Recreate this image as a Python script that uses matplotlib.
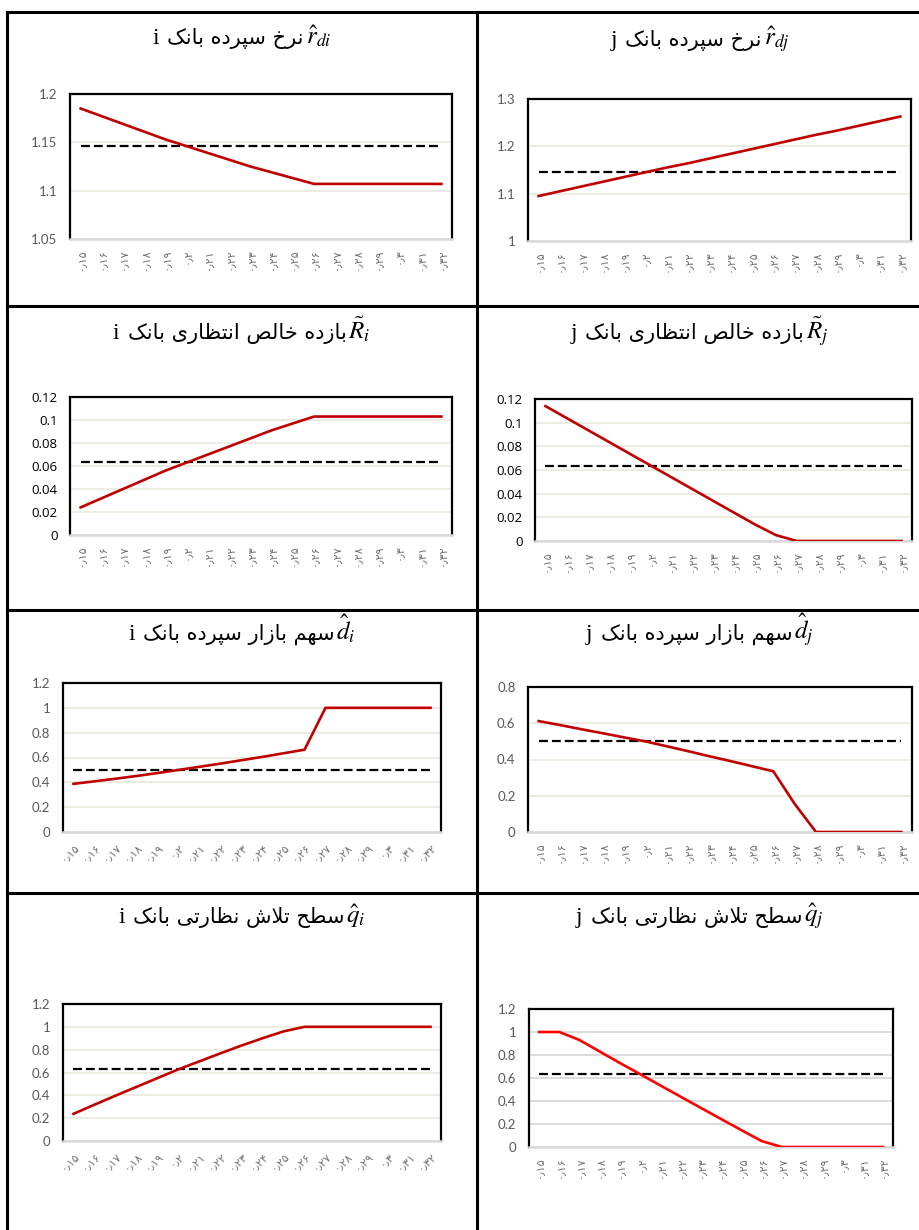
import numpy as np
import matplotlib
matplotlib.use('Agg')
import matplotlib.pyplot as plt
from matplotlib.lines import Line2D

plt.rcParams['mathtext.fontset'] = 'stix'

# ---------------- data ----------------
cat_labels = ['0.15', '0.16', '0.17', '0.18', '0.19', '0.2', '0.21', '0.22', '0.23',
              '0.24', '0.25', '0.26', '0.27', '0.28', '0.29', '0.3', '0.31', '0.32']

r_di = [1.185, 1.177, 1.169, 1.161, 1.153, 1.146, 1.139, 1.132, 1.125, 1.119, 1.113, 1.107,
        1.107, 1.107, 1.107, 1.107, 1.107, 1.107]
r_dj = [1.095, 1.105, 1.115, 1.125, 1.135, 1.145, 1.155, 1.164, 1.174, 1.184, 1.194, 1.204,
        1.214, 1.224, 1.233, 1.243, 1.253, 1.263]
R_i = [0.024, 0.032, 0.040, 0.048, 0.056, 0.063, 0.070, 0.077, 0.084, 0.091, 0.097, 0.103,
       0.103, 0.103, 0.103, 0.103, 0.103, 0.103]
R_j = [0.114, 0.104, 0.094, 0.084, 0.074, 0.064, 0.054, 0.044, 0.034, 0.024, 0.014, 0.005,
       0, 0, 0, 0, 0, 0]
d_i = [0.388, 0.408, 0.429, 0.451, 0.475, 0.500, 0.525, 0.551, 0.578, 0.605, 0.634, 0.663,
       1, 1, 1, 1, 1, 1]
d_j = [0.612, 0.590, 0.567, 0.545, 0.522, 0.500, 0.473, 0.446, 0.418, 0.391, 0.363, 0.335,
       0.155, 0, 0, 0, 0, 0]
q_i = [0.238, 0.318, 0.397, 0.474, 0.551, 0.628, 0.698, 0.768, 0.836, 0.900, 0.960, 1.0,
       1, 1, 1, 1, 1, 1]
q_j = [1, 1, 0.93, 0.83, 0.73, 0.633, 0.535, 0.437, 0.34, 0.243, 0.147, 0.052,
       0, 0, 0, 0, 0, 0]

# benchmark (dashed) levels
ref_r_di, ref_r_dj = 1.146, 1.145
ref_R_i, ref_R_j = 0.0636, 0.0638
ref_d_i, ref_d_j = 0.5, 0.5
ref_q_i, ref_q_j = 0.628, 0.633

yt_r_di = [1.05, 1.1, 1.15, 1.2]
yt_r_dj = [1, 1.1, 1.2, 1.3]
yt_R = [0, 0.02, 0.04, 0.06, 0.08, 0.1, 0.12]
yt_d_i = [0, 0.2, 0.4, 0.6, 0.8, 1, 1.2]
yt_d_j = [0, 0.2, 0.4, 0.6, 0.8]
yt_q = [0, 0.2, 0.4, 0.6, 0.8, 1, 1.2]

title_fa = ['نرخ سپرده بانک', 'نرخ سپرده بانک',
            'بازده خالص انتظاری بانک', 'بازده خالص انتظاری بانک',
            'سهم بازار سپرده بانک', 'سهم بازار سپرده بانک',
            'سطح تلاش نظارتی بانک', 'سطح تلاش نظارتی بانک']
title_math = [r'$\hat{r}_{di}$', r'$\hat{r}_{dj}$', r'$\tilde{R}_{i}$', r'$\tilde{R}_{j}$',
              r'$\hat{d}_{i}$', r'$\hat{d}_{j}$', r'$\hat{q}_{i}$', r'$\hat{q}_{j}$']
title_bank = ['i', 'j', 'i', 'j', 'i', 'j', 'i', 'j']

# ---------------- simple arabic shaping (matplotlib has none) ----------------
FORMS = {
    'ا': ('\uFE8D', '\uFE8E'),
    'د': ('\uFEA9', '\uFEAA'),
    'ر': ('\uFEAD', '\uFEAE'),
    'ز': ('\uFEAF', '\uFEB0'),
    'لا': ('\uFEFB', '\uFEFC'),
    'ب': ('\uFE8F', '\uFE90', '\uFE91', '\uFE92'),
    'پ': ('\uFB56', '\uFB57', '\uFB58', '\uFB59'),
    'ت': ('\uFE95', '\uFE96', '\uFE97', '\uFE98'),
    'ح': ('\uFEA1', '\uFEA2', '\uFEA3', '\uFEA4'),
    'خ': ('\uFEA5', '\uFEA6', '\uFEA7', '\uFEA8'),
    'س': ('\uFEB1', '\uFEB2', '\uFEB3', '\uFEB4'),
    'ش': ('\uFEB5', '\uFEB6', '\uFEB7', '\uFEB8'),
    'ص': ('\uFEB9', '\uFEBA', '\uFEBB', '\uFEBC'),
    'ط': ('\uFEC1', '\uFEC2', '\uFEC3', '\uFEC4'),
    'ظ': ('\uFEC5', '\uFEC6', '\uFEC7', '\uFEC8'),
    'ل': ('\uFEDD', '\uFEDE', '\uFEDF', '\uFEE0'),
    'م': ('\uFEE1', '\uFEE2', '\uFEE3', '\uFEE4'),
    'ن': ('\uFEE5', '\uFEE6', '\uFEE7', '\uFEE8'),
    'ه': ('\uFEE9', '\uFEEA', '\uFEEB', '\uFEEC'),
    'ک': ('\uFB8E', '\uFB8F', '\uFB90', '\uFB91'),
    'ی': ('\uFBFC', '\uFBFD', '\uFBFE', '\uFBFF'),
}


def shape(text):
    tokens = []
    i = 0
    while i < len(text):
        if text[i:i + 2] == 'لا':
            tokens.append('لا')
            i += 2
        else:
            tokens.append(text[i])
            i += 1
    out = []
    for k, t in enumerate(tokens):
        if t not in FORMS:
            out.append(t)
            continue
        prev = tokens[k - 1] if k > 0 else None
        nxt = tokens[k + 1] if k + 1 < len(tokens) else None
        jp = prev in FORMS and len(FORMS[prev]) == 4
        jn = len(FORMS[t]) == 4 and nxt in FORMS
        f = FORMS[t]
        if jp and jn:
            out.append(f[3])
        elif jp:
            out.append(f[1])
        elif jn:
            out.append(f[2])
        else:
            out.append(f[0])
    return ''.join(reversed(out))


fa_digits = str.maketrans('0123456789.', '۰۱۲۳۴۵۶۷۸۹٫')
xlabels_fa = [s.translate(fa_digits) for s in cat_labels]

# ---------------- figure ----------------
W, H = 920, 1230
fig = plt.figure(figsize=(W / 100, H / 100), dpi=100)

# table borders (pixels)
def hline(y, x0=7, x1=920):
    fig.add_artist(Line2D([x0 / W, x1 / W], [1 - y / H, 1 - y / H], color='black', lw=2.2))

def vline(x, y0=12, y1=1230):
    fig.add_artist(Line2D([x / W, x / W], [1 - y0 / H, 1 - y1 / H], color='black', lw=2.2))

for y in [12, 306, 610, 893]:
    hline(y)
for x in [7, 477]:
    vline(x)

panels = [
    # data, ref, ylim, yticks, rect(l,t,r,b), rot, line color, grid color, tick color
    (r_di, ref_r_di, (1.05, 1.2), yt_r_di, (70, 94, 452, 239), 90, '#C00000', '#EBEBDF', '#595959'),
    (r_dj, ref_r_dj, (1.0, 1.3), yt_r_dj, (528, 99, 911, 241), 90, '#C00000', '#EBEBDF', '#595959'),
    (R_i, ref_R_i, (0, 0.12), yt_R, (70, 397, 452, 535), 90, '#C00000', '#EBEBDF', '#000000'),
    (R_j, ref_R_j, (0, 0.12), yt_R, (535, 399, 912, 541), 90, '#C00000', '#EBEBDF', '#000000'),
    (d_i, ref_d_i, (0, 1.2), yt_d_i, (63, 683, 441, 832), 45, '#C00000', '#EBEBDF', '#595959'),
    (d_j, ref_d_j, (0, 0.8), yt_d_j, (528, 687, 912, 832), 90, '#C00000', '#EBEBDF', '#595959'),
    (q_i, ref_q_i, (0, 1.2), yt_q, (63, 1004, 441, 1141), 45, '#C00000', '#EBEBDF', '#595959'),
    (q_j, ref_q_j, (0, 1.2), yt_q, (529, 1009, 893, 1147), 90, '#FF0000', '#D9D9D9', '#595959'),
]

x = np.arange(len(cat_labels))
for vals, ref, ylim, yt, rect, rot, lc, gc, tc in panels:
    l, t, r, b = rect
    ax = fig.add_axes([l / W, 1 - b / H, (r - l) / W, (b - t) / H])
    ax.plot(x, vals, color=lc, lw=1.9, solid_joinstyle='round', zorder=3)
    ax.plot(x, [ref] * len(x), color='black', lw=1.6, ls=(0, (4, 1.8)), zorder=2)
    ax.set_xlim(-0.5, len(x) - 0.5)
    ax.set_ylim(*ylim)
    ax.set_yticks(yt)
    ax.set_yticklabels(['{:g}'.format(v) for v in yt], color=tc, fontsize=9.5,
                       family='Open Sans' if tc == '#000000' else 'Lato')
    ax.set_xticks(x)
    if rot == 90:
        ax.set_xticklabels(xlabels_fa, rotation=90, ha='center', va='top',
                           fontsize=8, color='#707070', family='DejaVu Sans')
    else:
        ax.set_xticklabels(xlabels_fa, rotation=45, ha='right', va='top',
                           rotation_mode='anchor', fontsize=8, color='#707070',
                           family='DejaVu Sans')
    ax.tick_params(axis='both', length=0)
    ax.tick_params(axis='y', pad=9)
    ax.tick_params(axis='x', pad=7)
    ax.yaxis.grid(True, color=gc, lw=1.3)
    ax.set_axisbelow(True)
    for s in ['left', 'top', 'right']:
        ax.spines[s].set_color('black')
        ax.spines[s].set_linewidth(1.6)
    ax.spines['bottom'].set_color('#D9D9D9')
    ax.spines['bottom'].set_linewidth(1.8)

# ---------------- titles: "i" + persian text + math symbol, centred in cell ----------------
title_base = [44, 46, 339, 339, 640, 640, 923, 923]
cell_cx = [242, 700, 242, 700, 242, 700, 242, 700]

renderer = fig.canvas.get_renderer()
for k in range(8):
    yb = 1 - title_base[k] / H
    t1 = fig.text(0, yb, title_bank[k], fontsize=17, family='Liberation Serif', va='baseline', ha='left')
    t2 = fig.text(0, yb, shape(title_fa[k]), fontsize=15, family='DejaVu Sans', va='baseline', ha='left')
    t3 = fig.text(0, yb, title_math[k], fontsize=18, va='baseline', ha='left')
    w1 = t1.get_window_extent(renderer).width
    w2 = t2.get_window_extent(renderer).width
    w3 = t3.get_window_extent(renderer).width
    gap1, gap2 = 8, 2
    total = w1 + gap1 + w2 + gap2 + w3
    x0 = cell_cx[k] - total / 2
    t1.set_x(x0 / W)
    t2.set_x((x0 + w1 + gap1) / W)
    t3.set_x((x0 + w1 + gap1 + w2 + gap2) / W)

fig.savefig('out.png', dpi=100)
